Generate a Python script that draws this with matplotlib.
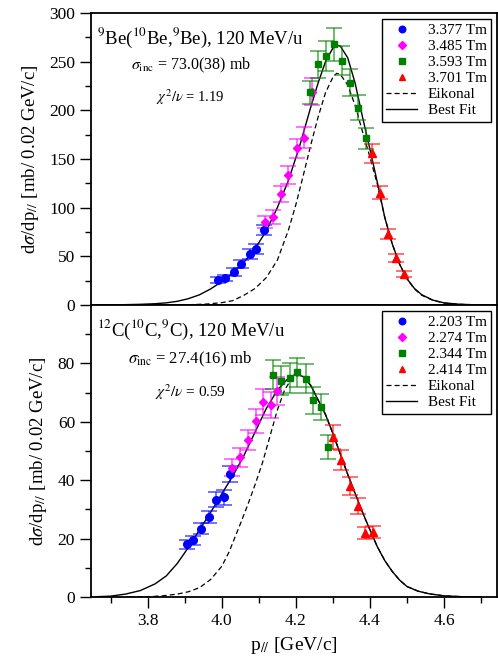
import numpy as np
import matplotlib
matplotlib.use("Agg")
import matplotlib.pyplot as plt
from matplotlib.lines import Line2D

plt.rcParams['font.family'] = ['Liberation Serif', 'DejaVu Serif']
plt.rcParams['mathtext.fontset'] = 'stix'

# ---- top panel: 10Be -> 9Be ----
top_fields = ['3.377 Tm', '3.485 Tm', '3.593 Tm', '3.701 Tm']
top_x = [
    [3.991, 4.009, 4.032, 4.052, 4.075, 4.092, 4.113],
    [4.117, 4.138, 4.160, 4.179, 4.203, 4.223, 4.244],
    [4.239, 4.260, 4.282, 4.304, 4.325, 4.347, 4.368, 4.389],
    [4.406, 4.426, 4.449, 4.471, 4.491],
]
top_y = [
    [25.7, 28.1, 34.2, 42.1, 52.4, 57.9, 77.1],
    [85.6, 90.7, 113.8, 133.6, 161.0, 171.9, 219.2],
    [218.6, 247.4, 255.9, 267.9, 250.8, 228.5, 202.8, 171.3],
    [155.9, 115.4, 72.7, 48.6, 31.9],
]
top_err = [
    [3, 3, 4, 4, 5, 5, 5],
    [6, 7, 8, 9, 10, 11, 14],
    [12, 14, 15, 17, 15, 14, 13, 11],
    [10, 7, 5, 4, 3],
]
# curves
top_fit_x = [3.66, 3.70, 3.74, 3.78, 3.82, 3.85, 3.88, 3.91, 3.94, 3.97, 4.00, 4.03,
             4.06, 4.09, 4.12, 4.15, 4.18, 4.21, 4.24, 4.26, 4.28, 4.30, 4.31, 4.32,
             4.34, 4.36, 4.38, 4.40, 4.42, 4.44, 4.46, 4.48, 4.50, 4.52, 4.54, 4.57,
             4.60, 4.64, 4.68, 4.74]
top_fit_y = [0.05, 0.15, 0.35, 0.7, 1.3, 2.2, 3.8, 6.5, 10.5, 16.5, 24, 33,
             44, 58, 76, 100, 128, 163, 203, 228, 250, 264, 267, 266,
             254, 228, 193, 160, 126, 90, 63, 42, 27, 17, 10.5, 5,
             2.2, 0.8, 0.25, 0.05]
top_eik_x = [3.80, 3.86, 3.92, 3.96, 4.00, 4.03, 4.06, 4.09, 4.12, 4.15, 4.18, 4.20,
             4.22, 4.24, 4.26, 4.28, 4.30, 4.31, 4.32, 4.34, 4.36, 4.38, 4.40, 4.42,
             4.44, 4.46, 4.48, 4.50, 4.52, 4.54, 4.57, 4.60, 4.64, 4.68, 4.74]
top_eik_y = [0.02, 0.1, 0.4, 1, 2.4, 4.5, 10, 17, 28, 46, 77, 103,
             133, 164, 193, 218, 234, 238, 237, 226, 205, 178, 152, 124,
             90, 63, 42, 27, 16.5, 10, 4.8, 2, 0.7, 0.2, 0.03]

# ---- bottom panel: 10C -> 9C ----
bot_fields = ['2.203 Tm', '2.274 Tm', '2.344 Tm', '2.414 Tm']
bot_x = [
    [3.906, 3.923, 3.943, 3.965, 3.985, 4.006, 4.023],
    [4.029, 4.050, 4.071, 4.092, 4.111, 4.134, 4.150],
    [4.137, 4.161, 4.183, 4.204, 4.227, 4.247, 4.268, 4.286],
    [4.300, 4.323, 4.345, 4.367, 4.388, 4.408],
]
bot_y = [
    [18.0, 19.4, 23.4, 27.3, 33.3, 34.1, 42.1],
    [44.3, 47.8, 53.8, 60.3, 66.7, 65.7, 70.4],
    [76.1, 74.1, 75.0, 77.0, 74.7, 67.3, 65.0, 51.4],
    [54.8, 46.9, 38.1, 31.1, 22.0, 22.2],
]
bot_err = [
    [1.4, 1.5, 1.8, 2.0, 2.5, 2.5, 2.8],
    [3.0, 3.2, 3.5, 4.0, 4.5, 4.5, 4.8],
    [5.0, 5.0, 5.0, 5.0, 5.0, 4.5, 4.5, 4.0],
    [4.0, 3.5, 3.0, 2.8, 2.0, 2.0],
]
bot_fit_x = [3.66, 3.70, 3.74, 3.78, 3.82, 3.85, 3.88, 3.91, 3.94, 3.97, 4.00, 4.03,
             4.06, 4.09, 4.12, 4.15, 4.18, 4.20, 4.22, 4.24, 4.26, 4.28, 4.30, 4.32,
             4.34, 4.36, 4.38, 4.40, 4.42, 4.44, 4.46, 4.48, 4.50, 4.53, 4.56, 4.60,
             4.65, 4.70]
bot_fit_y = [0.1, 0.3, 1.0, 2.2, 4.5, 7.2, 11.5, 17, 23, 29, 35.3, 41.5,
             48.5, 56.5, 64.5, 70.8, 75, 76.3, 75.5, 72.5, 67.5, 62.5, 56, 49,
             42, 35.5, 29, 23, 17.2, 12.5, 8.8, 5.8, 3.6, 2, 1.1, 0.4,
             0.1, 0.02]
bot_eik_x = [3.75, 3.80, 3.84, 3.88, 3.91, 3.94, 3.97, 4.00, 4.02, 4.05, 4.07, 4.09,
             4.11, 4.13, 4.15, 4.17, 4.19, 4.21, 4.22, 4.24, 4.26, 4.28, 4.30, 4.32,
             4.34, 4.36, 4.38, 4.40, 4.42, 4.44, 4.46, 4.48, 4.50, 4.53, 4.56, 4.60,
             4.65, 4.70]
bot_eik_y = [0.0, 0.1, 0.4, 1.0, 1.8, 3.2, 6, 10.5, 15.5, 25, 31.5, 38.5,
             46, 55, 64, 71, 75, 76, 75.5, 72.5, 67.5, 62.5, 56, 49,
             42, 35.5, 29, 23, 17.2, 12.5, 8.8, 5.8, 3.6, 2, 1.1, 0.4,
             0.1, 0.02]

colors = ['#0000ff', '#ff00ff', '#008000', '#ff0000']
markers = ['o', 'D', 's', '^']
msizes = [5.5, 4.5, 4.5, 5.5]

fig = plt.figure(figsize=(4.98, 6.69), dpi=100)
ax1 = fig.add_axes([0.1827, 0.5441, 0.8153, 0.4365])
ax2 = fig.add_axes([0.1827, 0.1076, 0.8153, 0.4365])


def draw_panel(ax, xs, ys, errs, fx, fy, ex, ey, fields):
    ax.plot(ex, ey, color='k', ls=(0, (4, 2.5)), lw=0.9, zorder=2)
    ax.plot(fx, fy, color='k', ls='-', lw=1.0, zorder=2)
    handles = []
    for x, y, e, c, m, s, lab in zip(xs, ys, errs, colors, markers, msizes, fields):
        ax.errorbar(x, y, yerr=e, fmt='none', ecolor=matplotlib.colors.to_rgba(c, 0.7),
                    elinewidth=1.1, capsize=6, capthick=1.1, zorder=3)
        ax.plot(x, y, ls='none', marker=m, color=c, ms=s, zorder=4)
        handles.append(Line2D([], [], ls='none', marker=m, color=c, ms=s - 0.8, label=lab))
    handles.append(Line2D([], [], color='k', ls=(0, (4, 2.5)), lw=0.9, label='Eikonal'))
    handles.append(Line2D([], [], color='k', ls='-', lw=1.0, label='Best Fit'))
    leg = ax.legend(handles=handles, loc='upper right', bbox_to_anchor=(0.993, 0.99),
                    fontsize=11, frameon=True, fancybox=False, framealpha=1,
                    edgecolor='k', borderpad=0.3, labelspacing=0.15, handlelength=2.0,
                    handletextpad=0.7, borderaxespad=0.2)
    leg.get_frame().set_linewidth(1.0)
    ax.set_xlim(3.647, 4.743)
    ax.tick_params(axis='both', which='both', direction='out', labelsize=12.5)
    ax.tick_params(which='major', length=8, width=1.0)
    ax.tick_params(which='minor', length=4.5, width=1.0)
    ax.tick_params(top=False, right=False)
    for sp in ax.spines.values():
        sp.set_linewidth(1.3)
    ax.set_ylabel(r'd$\sigma$/dp$_{//}$ [mb/ 0.02 GeV/c]', fontsize=13.5, labelpad=6)


draw_panel(ax1, top_x, top_y, top_err, top_fit_x, top_fit_y, top_eik_x, top_eik_y, top_fields)
draw_panel(ax2, bot_x, bot_y, bot_err, bot_fit_x, bot_fit_y, bot_eik_x, bot_eik_y, bot_fields)

ax1.set_ylim(0, 300)
ax1.set_yticks(np.arange(0, 301, 50))
ax1.set_yticks(np.arange(25, 300, 50), minor=True)
ax1.set_xticks([])
ax1.set_xticks([], minor=True)

ax2.set_ylim(0, 100)
ax2.set_yticks(np.arange(0, 81, 20))
ax2.set_yticks(np.arange(10, 100, 20), minor=True)
ax2.set_xticks([3.8, 4.0, 4.2, 4.4, 4.6])
ax2.set_xticks([3.7, 3.9, 4.1, 4.3, 4.5, 4.7], minor=True)
ax2.set_xticklabels(['3.8', '4.0', '4.2', '4.4', '4.6'])
ax2.set_xlabel(r'p$_{//}$ [GeV/c]', fontsize=14, labelpad=4)

ax1.text(0.015, 0.955, r'$^{9}$Be($^{10}$Be,$^{9}$Be), 120 MeV/u', transform=ax1.transAxes,
         fontsize=13.5, va='top', ha='left')
ax1.text(0.245, 0.82, r'$\sigma_{\rm inc}$ = 73.0(38) mb', transform=ax1.transAxes,
         fontsize=11.5, va='center', ha='center')
ax1.text(0.245, 0.71, r'$\chi^2/\nu$ = 1.19', transform=ax1.transAxes,
         fontsize=10.5, va='center', ha='center')

ax2.text(0.015, 0.955, r'$^{12}$C($^{10}$C,$^{9}$C), 120 MeV/u', transform=ax2.transAxes,
         fontsize=13.5, va='top', ha='left')
ax2.text(0.245, 0.815, r'$\sigma_{\rm inc}$ = 27.4(16) mb', transform=ax2.transAxes,
         fontsize=12, va='center', ha='center')
ax2.text(0.245, 0.70, r'$\chi^2/\nu$ = 0.59', transform=ax2.transAxes,
         fontsize=11, va='center', ha='center')

fig.savefig('out.png', dpi=100)
